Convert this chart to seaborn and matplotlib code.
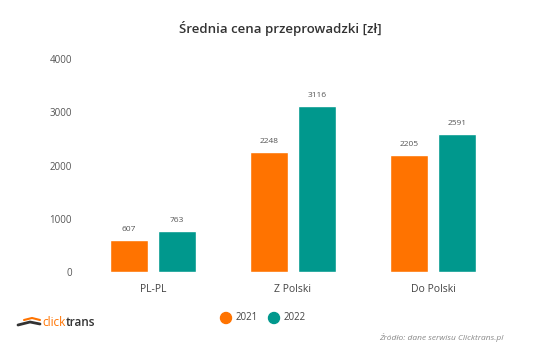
import matplotlib
matplotlib.use("Agg")
import matplotlib.pyplot as plt
import seaborn as sns
import pandas as pd

categories = ["PL-PL", "Z Polski", "Do Polski"]
years = ["2021", "2022"]
values_2021 = [607, 2248, 2205]
values_2022 = [763, 3116, 2591]
yticks = [0, 1000, 2000, 3000, 4000]

df = pd.DataFrame({
    "kategoria": categories * 2,
    "rok": [years[0]] * 3 + [years[1]] * 3,
    "cena": values_2021 + values_2022,
})

sns.set_theme(style="white")
plt.rcParams["font.family"] = ["Open Sans", "DejaVu Sans"]

colors = {"2021": "#FF7300", "2022": "#00988D"}

fig = plt.figure(figsize=(5.6, 3.49), dpi=100)
ax = fig.add_axes([83 / 560, 77 / 349, 420 / 560, 213 / 349])
sns.barplot(data=df, x="kategoria", y="cena", hue="rok", order=categories,
            hue_order=years, palette=colors, width=0.686, gap=0.21,
            legend=False, ax=ax, saturation=1)

for cont in ax.containers:
    ax.bar_label(cont, labels=[f"{int(v)}" for v in cont.datavalues],
                 padding=5, fontsize=6, color="#555555")

ax.set_xlim(-0.5, 2.5)
ax.set_ylim(0, 4000)
ax.set_yticks(yticks)
ax.set_yticklabels([str(t) for t in yticks])
ax.tick_params(axis="y", labelsize=7, colors="#555555", length=0, pad=8)
ax.tick_params(axis="x", labelsize=7.5, colors="#444444", length=0, pad=9)
ax.set_xlabel("")
ax.set_ylabel("")
for s in ax.spines.values():
    s.set_visible(False)

fig.text(0.5, 1 - 29 / 349, "Średnia cena przeprowadzki [zł]", ha="center",
         va="center", fontsize=9.5, fontweight="semibold", color="#333333")

# legend
for i, yr in enumerate(years):
    x0 = (226 + 48 * i) / 560
    fig.patches.append(matplotlib.patches.Ellipse((x0, 1 - 318 / 349), 11 / 560, 11 / 349,
                                                  transform=fig.transFigure,
                                                  color=colors[yr]))
    fig.text(x0 + 10 / 560, 1 - 318 / 349, yr, ha="left", va="center",
             fontsize=7, color="#444444")

# logo
t1 = fig.text(42 / 560, 1 - 323 / 349, "click", ha="left", va="center",
              fontsize=8.5, color="#FF7300")
fig.canvas.draw()
bb = t1.get_window_extent(fig.canvas.get_renderer())
fig.text(bb.x1 / fig.bbox.width + 0.5 / 560, 1 - 323 / 349, "trans", ha="left",
         va="center", fontsize=8.5, fontweight="semibold", color="#333333")
fig.lines.append(matplotlib.lines.Line2D([18 / 560, 30 / 560, 40 / 560],
                                         [1 - 325 / 349, 1 - 322 / 349, 1 - 324 / 349],
                                         transform=fig.transFigure, color="#333333", lw=2))
fig.lines.append(matplotlib.lines.Line2D([24 / 560, 32 / 560, 40 / 560],
                                         [1 - 320 / 349, 1 - 318 / 349, 1 - 320 / 349],
                                         transform=fig.transFigure, color="#FF7300", lw=1.5))

fig.text(503 / 560, 1 - 337 / 349, "Źródło: dane serwisu Clicktrans.pl", ha="right",
         va="center", fontsize=6, style="italic", color="#888888")

fig.savefig("out.png", dpi=100)
